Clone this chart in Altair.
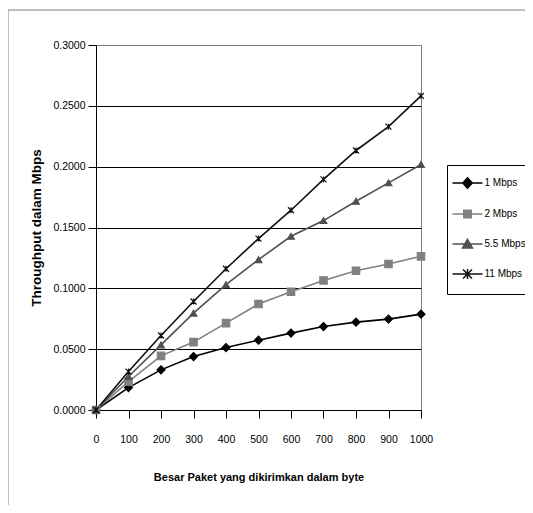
import altair as alt
import pandas as pd

# ---- data ----
packet_sizes = [0, 100, 200, 300, 400, 500, 600, 700, 800, 900, 1000]
series_names = ["1 Mbps", "2 Mbps", "5.5 Mbps", "11 Mbps"]
tp_1 = [0.0, 0.0184, 0.0330, 0.0439, 0.0513, 0.0574, 0.0632, 0.0686, 0.0722, 0.0747, 0.0788]
tp_2 = [0.0, 0.0233, 0.0445, 0.0558, 0.0714, 0.0871, 0.0972, 0.1065, 0.1145, 0.1200, 0.1263]
tp_55 = [0.0, 0.0275, 0.0535, 0.0796, 0.1030, 0.1236, 0.1428, 0.1557, 0.1716, 0.1867, 0.2018]
tp_11 = [0.0, 0.0316, 0.0612, 0.0892, 0.1161, 0.1409, 0.1642, 0.1895, 0.2133, 0.2329, 0.2582]
y_ticks = [0.0, 0.05, 0.10, 0.15, 0.20, 0.25, 0.30]

# ---- styles ----
series_colors = ["#000000", "#808080", "#505050", "#111111"]
series_shapes = ["diamond", "square", "triangle-up", "M-1,-1L1,1M-1,1L1,-1M0,-1L0,1"]
series_sizes = [64, 36, 64, 81]
# legend glyphs: short line segment with the series marker in its middle
legend_shapes = [
    "M-3,0H3M0,-1.05L0.95,0L0,1.05L-0.95,0Z",
    "M-3,0H3M-0.75,-0.75H0.75V0.75H-0.75Z",
    "M-3,0H3M0,-0.95L1,0.8L-1,0.8Z",
    "M-3,0H3M-0.9,-0.9L0.9,0.9M-0.9,0.9L0.9,-0.9M0,-1V1",
]
FONT = "Liberation Sans, Arial, Helvetica, sans-serif"

rows = []
for name, vals in zip(series_names, [tp_1, tp_2, tp_55, tp_11]):
    for x, y in zip(packet_sizes, vals):
        rows.append({"size": x, "tp": y, "series": name})
df = pd.DataFrame(rows)

x_axis = alt.Axis(
    values=packet_sizes, tickCount=11, format="d", title="Besar Paket yang dikirimkan dalam byte",
    grid=False, domainColor="#000000", tickColor="#000000", tickSize=8,
    labelPadding=16, labelFont=FONT, labelFontSize=10.5, labelColor="#000000",
    labelOverlap=False, labelFlush=False,
    titleFont=FONT, titleFontSize=11, titleFontWeight="bold", titleColor="#000000",
    titlePadding=27,
)
y_axis = alt.Axis(
    values=y_ticks, format=".4f", title="Throughput dalam Mbps",
    grid=True,
    gridColor=alt.condition("datum.value > 0.29", alt.value("#808080"), alt.value("#000000")),
    gridWidth=1,
    domainColor="#000000", tickColor="#000000", tickSize=8, labelPadding=3,
    labelFont=FONT, labelFontSize=10.5, labelColor="#000000", labelOverlap=False,
    labelFlush=False,
    titleFont=FONT, titleFontSize=13.5, titleFontWeight="bold", titleColor="#000000",
    titlePadding=9,
)
x_scale = alt.Scale(domain=[0, 1000], nice=False, zero=False)
y_scale = alt.Scale(domain=[0, 0.3], nice=False)

lines = alt.Chart(df).mark_line(strokeWidth=1.6).encode(
    x=alt.X("size:Q", scale=x_scale, axis=x_axis),
    y=alt.Y("tp:Q", scale=y_scale, axis=y_axis),
    color=alt.Color(
        "series:N",
        scale=alt.Scale(domain=series_names, range=series_colors),
        legend=None,
    ),
    order="size:Q",
)

points = alt.Chart(df).mark_point(filled=True, strokeWidth=1.2, opacity=1).encode(
    x=alt.X("size:Q", scale=x_scale, axis=x_axis),
    y=alt.Y("tp:Q", scale=y_scale, axis=y_axis),
    shape=alt.Shape("series:N", scale=alt.Scale(domain=series_names, range=series_shapes), legend=None),
    fill=alt.Fill("series:N", scale=alt.Scale(domain=series_names, range=series_colors), legend=None),
    stroke=alt.Stroke("series:N", scale=alt.Scale(domain=series_names, range=series_colors), legend=None),
    size=alt.Size("series:N", scale=alt.Scale(domain=series_names, range=series_sizes), legend=None),
)

leg = alt.Legend(
    title=None, orient="none", legendX=351, legendY=120,
    strokeColor="#000000", padding=12, rowPadding=15,
    symbolOffset=2.5, labelOffset=11, symbolStrokeWidth=1.5,
    labelFont=FONT, labelFontSize=10, labelColor="#000000",
)
legend_layer = alt.Chart(df).transform_filter("false").mark_point(
    filled=True, size=81, strokeWidth=1.5, opacity=1
).encode(
    shape=alt.Shape("series:N", scale=alt.Scale(domain=series_names, range=legend_shapes), legend=leg),
    fill=alt.Fill("series:N", scale=alt.Scale(domain=series_names, range=series_colors), legend=leg),
    stroke=alt.Stroke("series:N", scale=alt.Scale(domain=series_names, range=series_colors), legend=leg),
)

frame = alt.Chart(alt.Data(values=[{}])).mark_rect(
    fill=None, stroke="#808080", strokeWidth=1
).encode(
    x=alt.value(-88), x2=alt.value(460), y=alt.value(-35), y2=alt.value(480)
)

chart = alt.layer(frame, lines, points, legend_layer).resolve_scale(
    shape="independent", fill="independent", stroke="independent"
).properties(
    width=325, height=365,
    autosize=alt.AutoSizeParams(type="none"),
    padding={"left": 88, "top": 37, "right": 104, "bottom": 95},
    background="#ffffff",
).configure_view(
    fill="#c0c0c0", stroke="#808080", strokeWidth=1,
)

chart.save("out.html", embed_options={"renderer": "svg", "actions": False})
